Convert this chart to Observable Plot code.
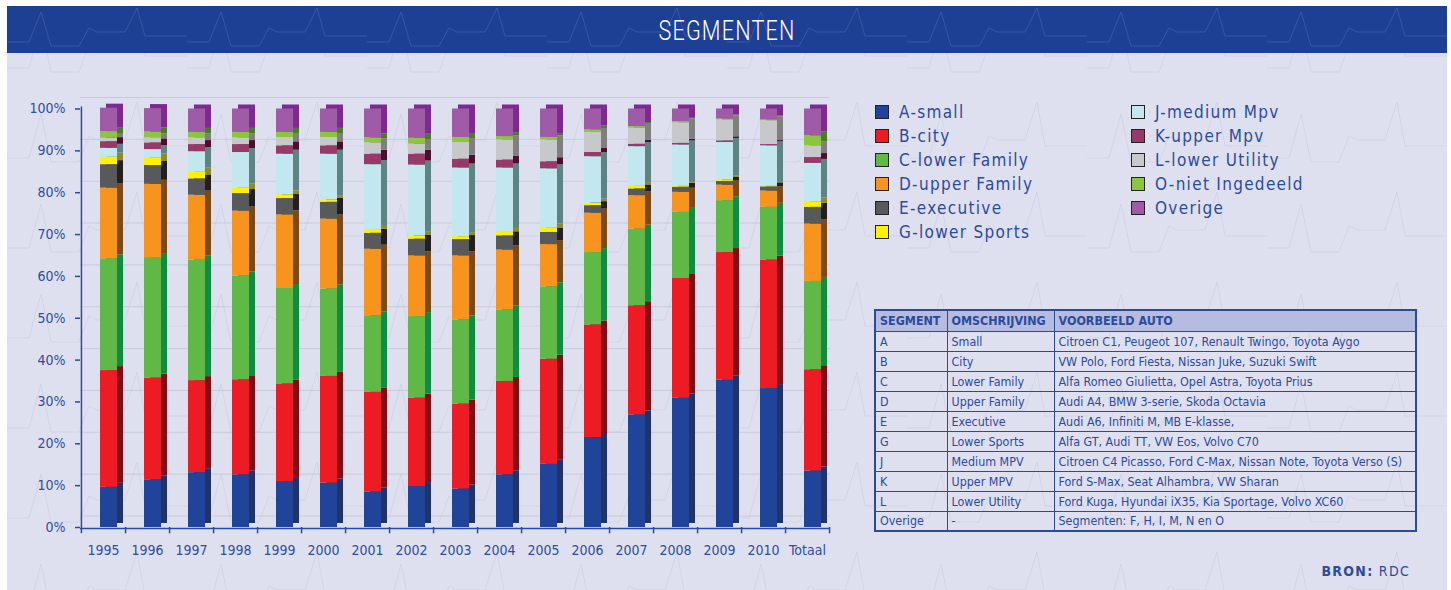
<!DOCTYPE html>
<html><head><meta charset="utf-8">
<script src="https://cdn.jsdelivr.net/npm/d3@7"></script>
<script src="https://cdn.jsdelivr.net/npm/@observablehq/plot@0.6"></script>
<style>
html,body{margin:0;padding:0;background:#fff;}
body{width:1451px;height:590px;overflow:hidden;position:relative;font-family:"Liberation Sans Narrow","DejaVu Sans Condensed","Roboto",sans-serif;color:#2b4b9b;}
#page{position:absolute;left:7px;top:6px;width:1440px;height:584px;background-color:#dfe0ef;
 background-image:url("data:image/svg+xml,%3Csvg xmlns='http://www.w3.org/2000/svg' width='180' height='90'%3E%3Cpath d='M0,62 L22,62 L34,18 L44,66 L72,66 L82,40 L90,44 L118,44 L130,6 L138,50 L180,50' fill='none' stroke='%23d1d3e8' stroke-width='1'/%3E%3C/svg%3E");}
#band{position:absolute;left:7px;top:6px;width:1440px;height:47px;background-color:#1d3f94;
 background-image:url("data:image/svg+xml,%3Csvg xmlns='http://www.w3.org/2000/svg' width='180' height='47'%3E%3Cpath d='M0,36 L22,36 L34,6 L44,40 L72,40 L82,22 L90,26 L118,26 L130,2 L138,30 L180,30' fill='none' stroke='%233755a3' stroke-width='1'/%3E%3C/svg%3E");}
#title{position:absolute;left:0;top:0;width:100%;height:47px;line-height:50px;text-align:center;color:#fff;font-family:Roboto,"DejaVu Sans",sans-serif;font-size:27px;font-weight:300;letter-spacing:1.5px;transform:scaleX(0.8);}
#chart{position:absolute;left:0;top:53px;width:850px;height:537px;}
#legend{position:absolute;left:0;top:0;}
.li{position:absolute;height:24px;display:flex;align-items:center;font-size:17px;letter-spacing:1.3px;color:#2b4b9b;white-space:nowrap;}
.sw{width:12px;height:12px;border:1.5px solid #222;margin-right:10px;}
#tbl{position:absolute;left:874px;top:309px;width:541px;table-layout:fixed;border-collapse:collapse;font-size:12.4px;color:#2b4b9b;border:2px solid #2a4a9c;}
#tbl td,#tbl th{box-sizing:border-box;border:1px solid #2a4a9c;padding:0 4px;height:20px;text-align:left;white-space:nowrap;overflow:hidden;}
#tbl th{background:#b6bbe0;font-weight:bold;height:21px;}
#bron{position:absolute;right:41px;top:563px;font-size:14px;letter-spacing:1.3px;color:#2b4b9b;}
</style></head>
<body>
<div id="page"></div>
<div id="band"><div id="title">SEGMENTEN</div></div>
<div id="chart"></div>
<div id="legend"></div>
<table id="tbl"></table>
<div id="bron"><b>BRON:</b> RDC</div>
<script>
const years = ["1995","1996","1997","1998","1999","2000","2001","2002","2003","2004","2005","2006","2007","2008","2009","2010","Totaal"];
const segments = ["A-small","B-city","C-lower Family","D-upper Family","E-executive","G-lower Sports","J-medium Mpv","K-upper Mpv","L-lower Utility","O-niet Ingedeeld","Overige"];
const A_small   = [9.6,11.4,13.1,12.6,11.0,10.6,8.5,9.8,9.2,12.6,15.1,21.5,26.9,30.9,35.2,33.2,13.5];
const B_city    = [27.9,24.3,22.0,22.7,23.3,25.5,23.8,21.1,20.3,22.3,25.1,26.9,26.1,28.6,30.5,30.7,24.2];
const C_lower   = [26.7,28.8,28.8,24.8,22.8,20.9,18.3,19.5,20.1,17.1,17.3,17.3,18.3,15.8,12.4,12.6,21.1];
const D_upper   = [16.9,17.5,15.5,15.5,17.6,16.7,15.9,14.5,15.3,14.3,10.1,9.4,8.0,4.8,3.7,3.9,13.7];
const E_exec    = [5.6,4.5,3.9,4.2,3.9,4.0,3.8,4.0,3.9,3.4,2.9,1.8,1.6,1.2,0.9,1.0,4.0];
const G_sports  = [1.8,1.8,1.6,1.3,0.9,0.5,0.9,0.7,0.7,0.8,1.1,0.6,0.6,0.4,0.4,0.3,1.3];
const J_mpv     = [2.1,2.0,4.9,8.5,9.7,11.0,15.5,17.0,16.4,15.4,14.1,11.1,9.5,9.7,8.9,9.5,9.2];
const K_mpv     = [1.6,1.6,1.7,1.9,2.0,2.0,2.5,2.6,2.1,1.9,1.7,1.0,0.6,0.4,0.4,0.3,1.4];
const L_utility = [0.8,1.2,1.6,1.6,2.0,2.0,2.7,2.4,4.0,4.8,5.2,4.8,3.8,4.9,5.0,5.7,2.8];
const O_niet    = [1.6,1.4,1.3,1.3,1.2,1.2,1.2,1.4,1.2,0.8,0.6,0.6,0.4,0.3,0.2,0.2,2.4];
const Overige   = [5.6,5.6,5.6,5.6,5.6,5.6,6.9,7.0,6.8,6.6,6.8,5.0,4.2,3.0,2.4,2.6,6.4];
const series = [A_small,B_city,C_lower,D_upper,E_exec,G_sports,J_mpv,K_mpv,L_utility,O_niet,Overige];
const frontColors = ["#1f4499","#ed1c24","#60b946","#f7941d","#58595b","#fff200","#c2e7ee","#953a69","#c7c8ca","#8cc63f","#a05ba6"];
const sideColors  = ["#213268","#7c1016","#138a43","#7a4b1a","#231f20","#8c8a2a","#5f8384","#4b0f2e","#7f7f80","#4a7a2b","#7b2a8f"];
const yTicks = [0,10,20,30,40,50,60,70,80,90,100];
const tableHead = ["SEGMENT","OMSCHRIJVING","VOORBEELD AUTO"];
const tableSeg = ["A","B","C","D","E","G","J","K","L","Overige"];
const tableDesc = ["Small","City","Lower Family","Upper Family","Executive","Lower Sports","Medium MPV","Upper MPV","Lower Utility","-"];
const tableCars = ["Citroen C1, Peugeot 107, Renault Twingo, Toyota Aygo","VW Polo, Ford Fiesta, Nissan Juke, Suzuki Swift","Alfa Romeo Giulietta, Opel Astra, Toyota Prius","Audi A4, BMW 3-serie, Skoda Octavia","Audi A6, Infiniti M, MB E-klasse,","Alfa GT, Audi TT, VW Eos, Volvo C70","Citroen C4 Picasso, Ford C-Max, Nissan Note, Toyota Verso (S)","Ford S-Max, Seat Alhambra, VW Sharan","Ford Kuga, Hyundai iX35, Kia Sportage, Volvo XC60","Segmenten: F, H, I, M, N en O"];

const data = [];
segments.forEach((s,i)=>years.forEach((y,j)=>data.push({year:y, seg:s, value:series[i][j], front:frontColors[i], side:sideColors[i]})));

const W = 850, ML = 80, MR = 20;
const step = (W - ML - MR) / years.length;
const blue = "#2a4a9c";
const font = '"Liberation Sans Narrow","DejaVu Sans Condensed",Roboto,sans-serif';

const chart = Plot.plot({
  width: W, height: 537,
  marginLeft: ML, marginRight: MR, marginTop: 55.5, marginBottom: 63,
  style: {background: "transparent", fontFamily: font, fontSize: "14px", color: "#2d4d9e", overflow: "visible"},
  x: {domain: years, padding: 0, label: null},
  y: {domain: [0, 100], label: null},
  color: {type: "identity"},
  marks: [
    Plot.ruleY(yTicks, {stroke: "#c8cadc", strokeWidth: 1, dy: -11.5}),
    Plot.barY(data, {x: "year", y: "value", fill: "side", insetLeft: 25, insetRight: 2, dy: -4}),
    Plot.barY(data, {x: "year", y: "value", fill: "front", insetLeft: 19, insetRight: 8}),
    Plot.ruleY([0], {stroke: blue, strokeWidth: 1.5, dy: 1}),
    Plot.ruleX([years[0]], {y1: -1.5, y2: 100.5, stroke: blue, strokeWidth: 1.5, dx: -step/2}),
    Plot.ruleX(years, {y1: 0, y2: -1.5, stroke: blue, strokeWidth: 1.5, dx: step/2}),
    Plot.axisY({ticks: yTicks, tickFormat: d => d + "%", tickSize: 5, tickPadding: 10, stroke: blue, strokeWidth: 1.5, fill: "#2d4d9e", fontSize: 14, label: null}),
    Plot.axisX({tickSize: 0, tickPadding: 18, fill: "#2d4d9e", fontSize: 14, label: null})
  ]
});
document.getElementById("chart").appendChild(chart);

// legend
const legend = document.getElementById("legend");
segments.forEach((s,i)=>{
  const col = i < 6 ? 0 : 1, row = i < 6 ? i : i - 6;
  const el = document.createElement("div");
  el.className = "li";
  el.style.left = (col ? 1131 : 875) + "px";
  el.style.top = (100 + row*24) + "px";
  el.innerHTML = `<span class="sw" style="background:${frontColors[i]}"></span>${s}`;
  legend.appendChild(el);
});

// table
const tbl = document.getElementById("tbl");
const widths = [72, 107, 362];
let h = "<tr>" + tableHead.map((t,i)=>`<th style="width:${widths[i]}px">${t}</th>`).join("") + "</tr>";
tableSeg.forEach((s,i)=>{ h += `<tr><td>${s}</td><td>${tableDesc[i]}</td><td>${tableCars[i]}</td></tr>`; });
tbl.innerHTML = h;
</script>
</body></html>
